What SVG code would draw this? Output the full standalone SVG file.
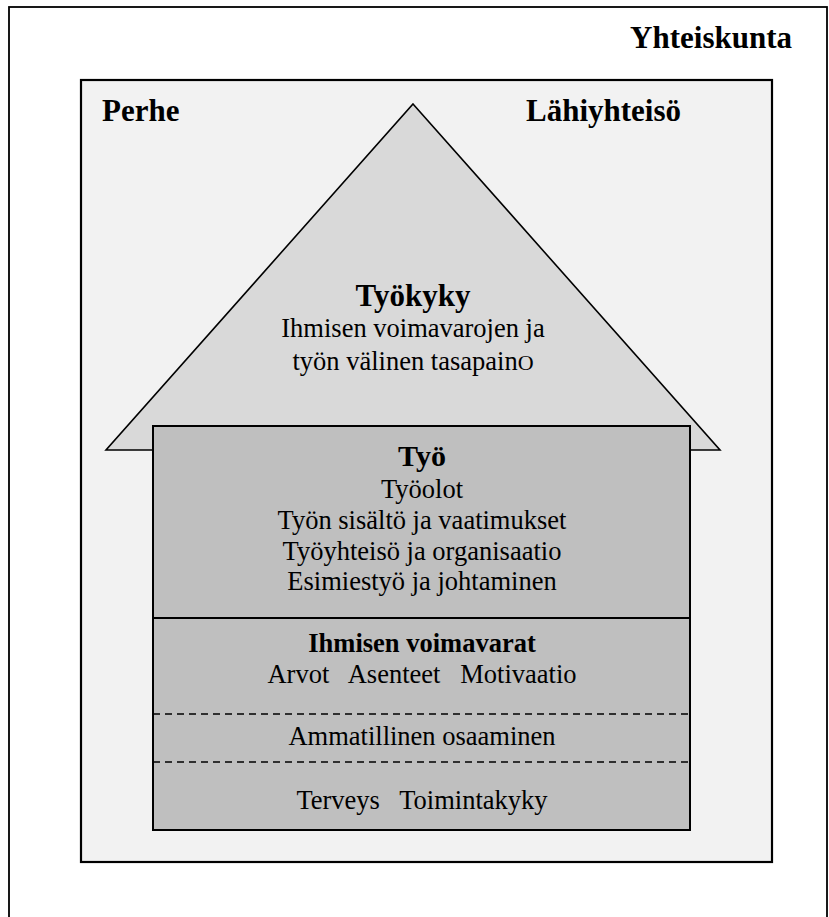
<svg xmlns="http://www.w3.org/2000/svg" width="829" height="917" viewBox="0 0 829 917">
<style>
  text { font-family: "Liberation Serif", "Times New Roman", serif; fill: #000; }
  .b { font-weight: bold; }
  .t31 { font-size: 31px; }
  .t30 { font-size: 30px; }
  .t26 { font-size: 26.5px; }
  .c { text-anchor: middle; }
  .dash { stroke: #000; stroke-width: 1.5; stroke-dasharray: 7 5; fill: none; }
</style>
<rect x="0" y="0" width="829" height="917" fill="#ffffff"/>
<g id="yhteiskunta">
  <rect x="9" y="7" width="818" height="920" fill="#ffffff" stroke="#000" stroke-width="1.8"/>
  <text class="b t31" x="792" y="48" text-anchor="end">Yhteiskunta</text>
</g>
<g id="lahiyhteiso">
  <rect x="81" y="80" width="691" height="782" fill="#f2f2f2" stroke="#000" stroke-width="2.2"/>
  <text class="b t31" x="102" y="121">Perhe</text>
  <text class="b t31" x="681" y="121" text-anchor="end">Lähiyhteisö</text>
</g>
<g id="tyokyky">
  <polygon points="413,104 720,450 106,450" fill="#d9d9d9" stroke="#000" stroke-width="1.6" stroke-linejoin="miter"/>
  <text class="b t31 c" x="413" y="306">Työkyky</text>
  <text class="t26 c" x="413" y="337">Ihmisen voimavarojen ja</text>
  <text class="t26 c" x="413" y="370">työn välinen tasapain<tspan font-size="22px">O</tspan></text>
</g>
<g id="tyo">
  <rect x="153" y="426" width="537" height="192" fill="#bfbfbf" stroke="#000" stroke-width="2"/>
  <text class="b t30 c" x="422" y="466">Työ</text>
  <text class="t26 c" x="422" y="498">Työolot</text>
  <text class="t26 c" x="422" y="529">Työn sisältö ja vaatimukset</text>
  <text class="t26 c" x="422" y="560">Työyhteisö ja organisaatio</text>
  <text class="t26 c" x="422" y="590">Esimiestyö ja johtaminen</text>
</g>
<g id="voimavarat">
  <rect x="153" y="618" width="537" height="212" fill="#bfbfbf" stroke="#000" stroke-width="2"/>
  <text class="b t26 c" x="422" y="652">Ihmisen voimavarat</text>
  <text class="t26 c" x="422" y="683" xml:space="preserve">Arvot   Asenteet   Motivaatio</text>
  <text class="t26 c" x="422" y="745">Ammatillinen osaaminen</text>
  <text class="t26 c" x="422" y="809" xml:space="preserve">Terveys   Toimintakyky</text>
</g>
<g id="connectors">
  <line class="dash" x1="153" y1="714" x2="690" y2="714"/>
  <line class="dash" x1="153" y1="762" x2="690" y2="762"/>
</g>
</svg>
